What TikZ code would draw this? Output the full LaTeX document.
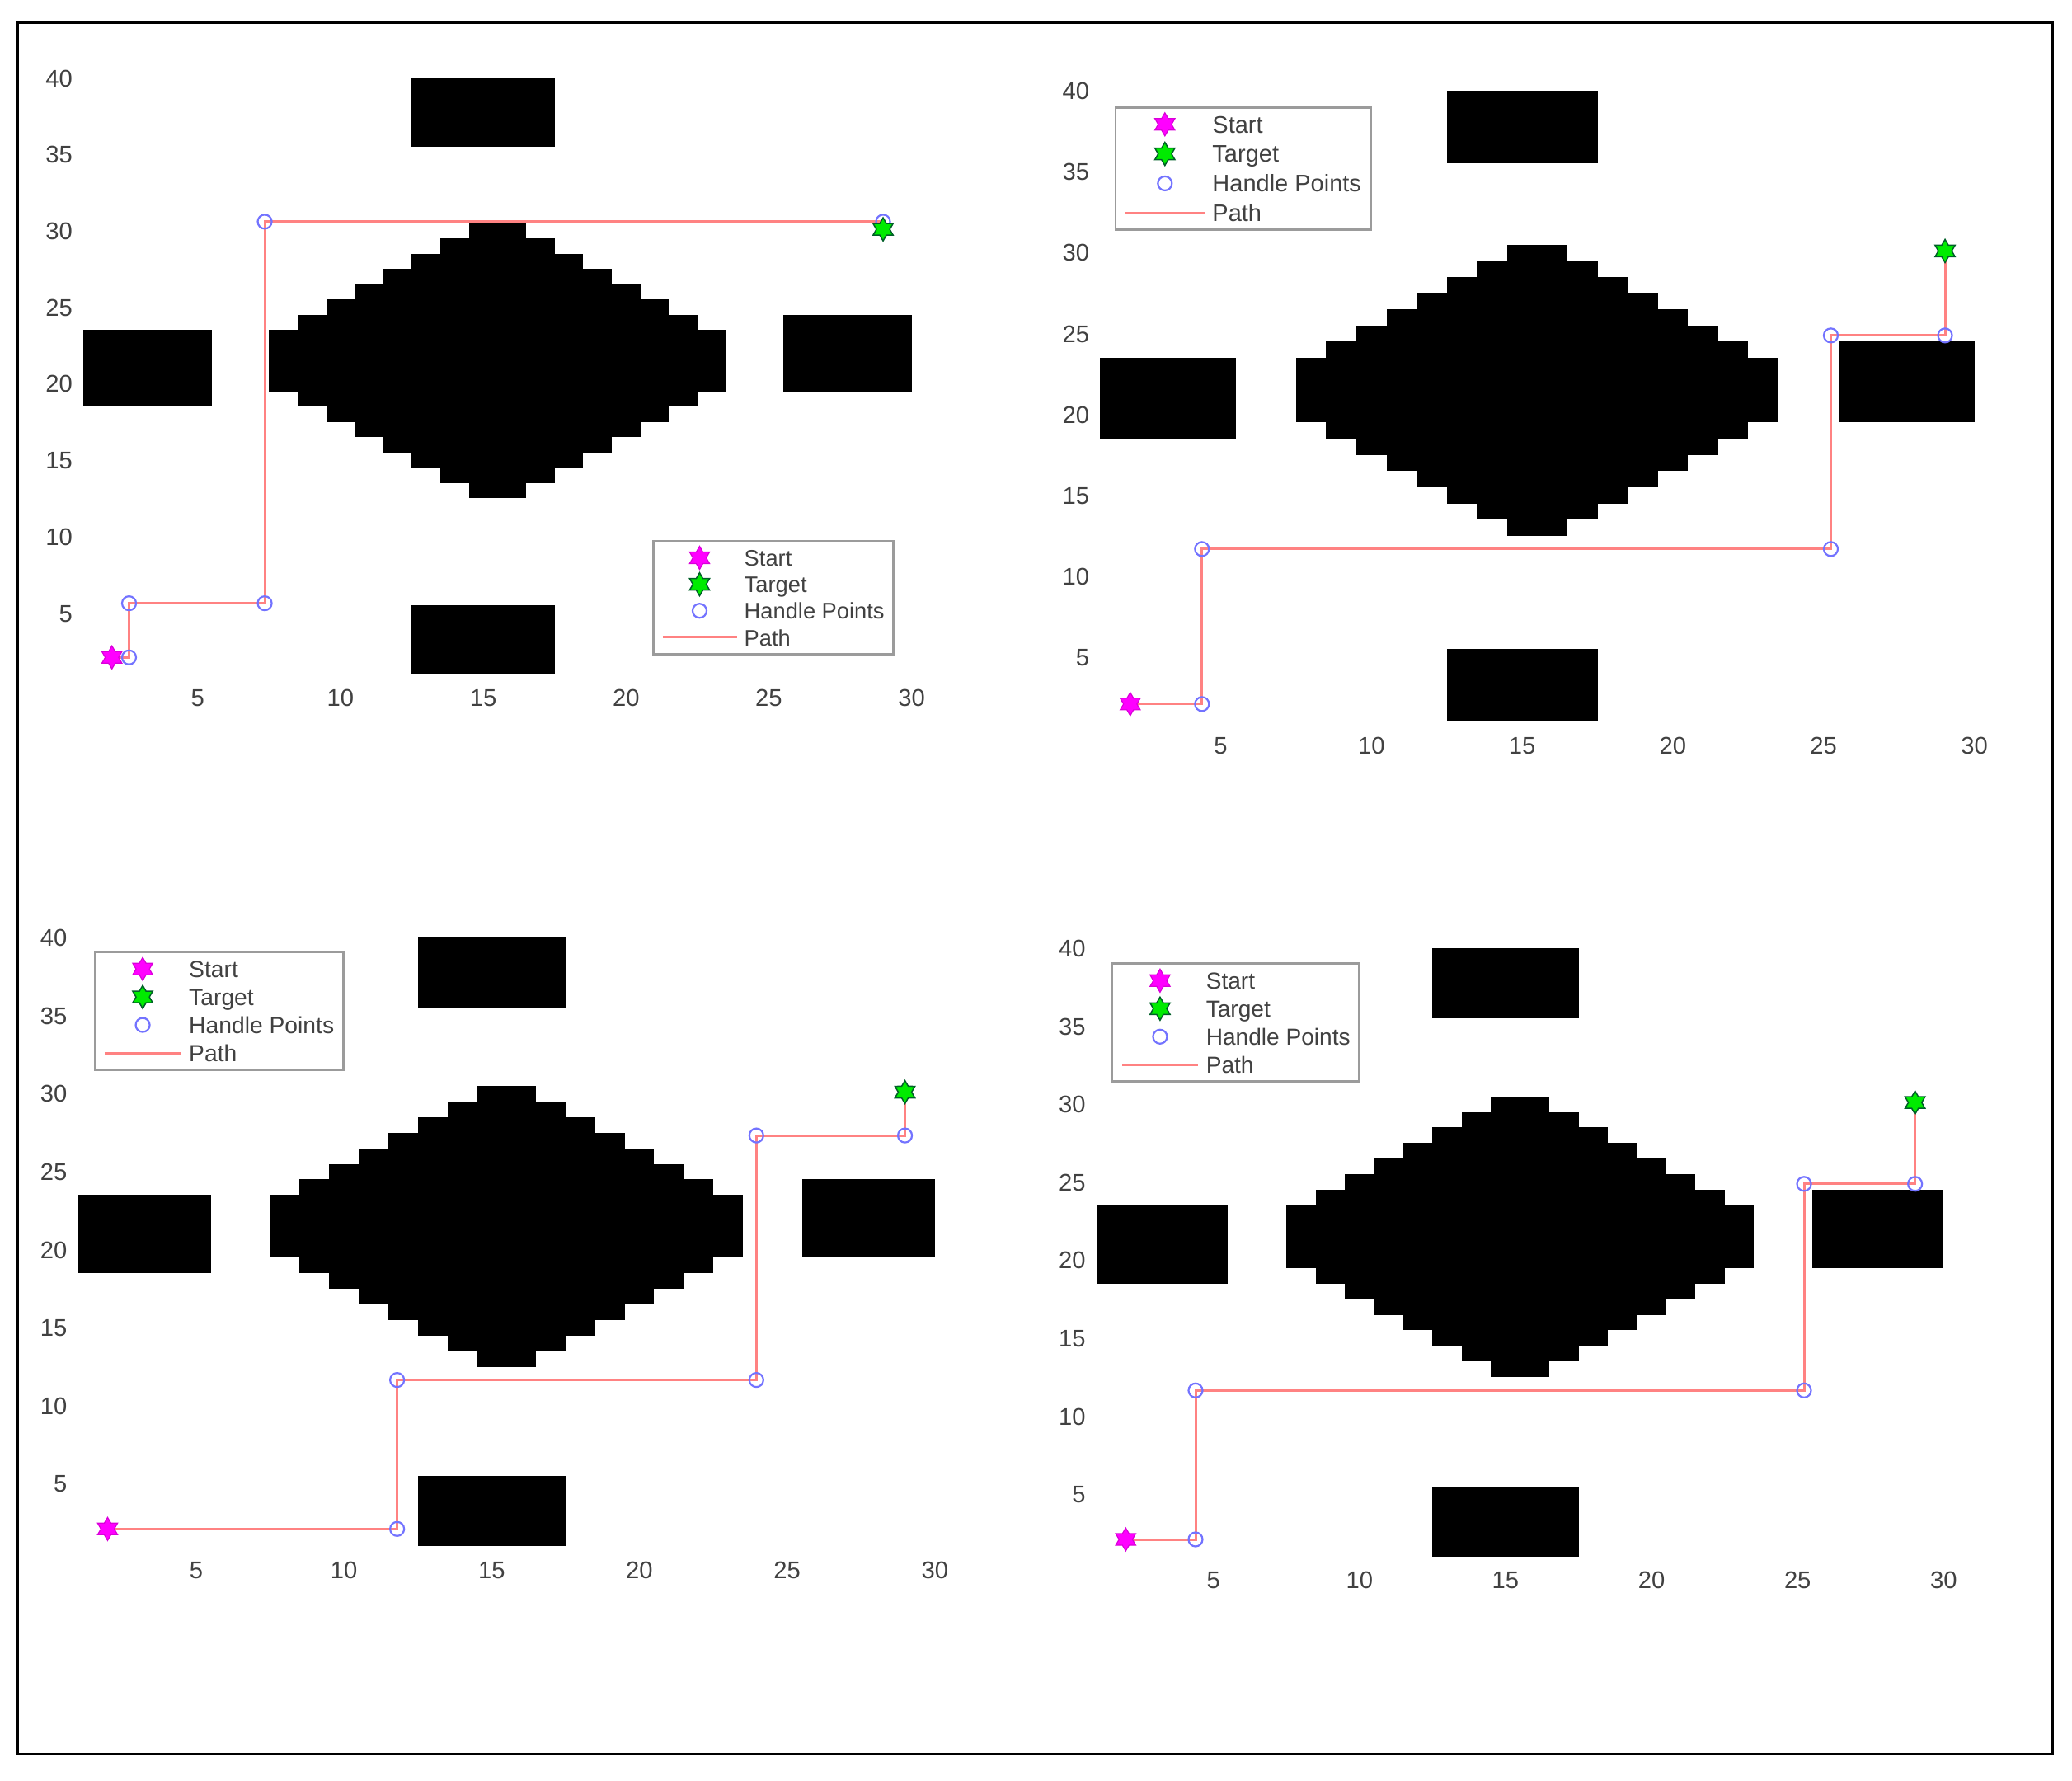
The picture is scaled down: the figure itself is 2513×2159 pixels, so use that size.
\documentclass[tikz,border=0pt]{standalone}
\usepackage{fontspec}
\setmainfont{Liberation Sans}
\usetikzlibrary{shapes.geometric}

\definecolor{pathred}{RGB}{255,130,130}
\definecolor{handleblue}{RGB}{115,115,255}
\definecolor{startmag}{RGB}{255,0,255}
\definecolor{targetgreen}{RGB}{0,235,0}
\definecolor{targetedge}{RGB}{0,95,40}
\definecolor{legendgray}{RGB}{155,155,155}
\definecolor{labelgray}{RGB}{65,65,65}

% map in data units: walls and the stepped diamond
\newcommand{\mapobstacles}{%
  \fill[obstacle] (12.5,35.5) rectangle (17.5,40);
  \fill[obstacle] (12.5,1) rectangle (17.5,5.5);
  \fill[obstacle] (1,18.5) rectangle (5.5,23.5);
  \fill[obstacle] (25.5,19.5) rectangle (30,24.5);
  \foreach \k in {0,...,7}
    \fill[obstacle] (14.5-\k,12.5+\k) rectangle (16.5+\k,30.5-\k);
}

% tick labels
\newcommand{\mapticks}[1]{%
  \foreach \v in {5,10,...,30}
    \node[ticklabel, yshift=-0.285cm] (#1x\v) at (\v,1) {\v};
  \foreach \v in {5,10,...,40}
    \node[ticklabel, anchor=east, xshift=-0.125cm] (#1y\v) at (1,\v) {\v};
}

% start -> 5 handle points -> target
\newcommand{\plannedpath}[6]{%
  \coordinate (#1s) at (2,2.1);
  \coordinate (#1h1) at (#2,2.1);
  \coordinate (#1h2) at (#2,#3);
  \coordinate (#1h3) at (#4,#3);
  \coordinate (#1h4) at (#4,#5);
  \coordinate (#1h5) at (#6,#5);
  \coordinate (#1t) at (#6,30.1);
  \draw[pathline] (#1s) -- (#1h1) -- (#1h2) -- (#1h3) -- (#1h4) -- (#1h5) -- (#1t);
  \foreach \i in {1,...,5}
    \node[handlemark] (#1m\i) at (#1h\i) {};
  \node[startmark] (#1ms) at (#1s) {};
  \node[targetmark] (#1mt) at (#1t) {};
}

% legend box, in pixel units
\newcommand{\maplegend}[5]{%
  \pgfmathsetmacro{\legrow}{(#5-41)/3}%
  \pgfmathsetmacro{\legmark}{#2+0.193*#4}%
  \pgfmathsetmacro{\legtxt}{#2+0.377*#4}%
  \pgfmathsetmacro{\legfont}{8*#4/300}%
  \pgfmathsetmacro{\legya}{#3+20.5}%
  \pgfmathsetmacro{\legyb}{#3+20.5+\legrow}%
  \pgfmathsetmacro{\legyc}{#3+20.5+2*\legrow}%
  \pgfmathsetmacro{\legyd}{#3+20.5+3*\legrow}%
  \draw[legframe] (#2,#3) rectangle ++(#4,#5);
  \begin{scope}[font=\fontsize{\legfont}{10}\selectfont]
    \node[startmark] (#1ls) at (\legmark,\legya) {};
    \node[legtext] (#1lst) at (\legtxt,\legya) {Start};
    \node[targetmark] (#1lt) at (\legmark,\legyb) {};
    \node[legtext] (#1ltt) at (\legtxt,\legyb) {Target};
    \node[handlemark] (#1lh) at (\legmark,\legyc) {};
    \node[legtext] (#1lht) at (\legtxt,\legyc) {Handle Points};
    \coordinate (#1lpa) at (#2+0.04*#4,\legyd);
    \coordinate (#1lpb) at (#2+0.348*#4,\legyd);
    \draw[pathline] (#1lpa) -- (#1lpb);
    \node[legtext] (#1lpt) at (\legtxt,\legyd) {Path};
  \end{scope}
}

\begin{document}
\begin{tikzpicture}[x=0.01cm, y=-0.01cm,
    obstacle/.style={fill=black},
    ticklabel/.style={text=labelgray, font=\fontsize{8.3}{10}\selectfont,
      inner sep=0pt, text height=6pt, text depth=0pt},
    legtext/.style={text=labelgray, anchor=west, inner sep=0pt,
      text height=5.8pt, text depth=0pt},
    pathline/.style={draw=pathred, line width=0.03cm},
    handlemark/.style={circle, draw=handleblue, line width=0.022cm,
      minimum size=0.17cm, inner sep=0pt},
    startmark/.style={star, star points=6, star point ratio=1.73,
      fill=startmag, draw=startmag!85!black, line width=0.012cm,
      minimum size=0.28cm, inner sep=0pt},
    targetmark/.style={star, star points=6, star point ratio=1.73,
      fill=targetgreen, draw=targetedge, line width=0.015cm,
      minimum size=0.28cm, inner sep=0pt},
    legframe/.style={draw=legendgray, line width=0.027cm},
  ]
  \useasboundingbox (0,0) rectangle (2513,2159);
  \draw[line width=0.033cm] (21.5,27) rectangle (2489,2127.5);

  % top left
  \begin{scope}[xshift=0.664cm, yshift=-8.357cm, x=0.3462cm, y=0.1853cm]
    \mapobstacles
    \mapticks{tl}
    \plannedpath{tl}{2.6}{5.64}{7.35}{30.6}{29}
  \end{scope}
  \maplegend{tl}{792.3}{656}{291}{137.3}

  % top right
  \begin{scope}[xshift=12.969cm, yshift=-8.945cm, x=0.3654cm, y=0.1961cm]
    \mapobstacles
    \mapticks{tr}
    \plannedpath{tr}{4.38}{11.68}{25.24}{24.88}{29.03}
  \end{scope}
  \maplegend{tr}{1353.1}{130.3}{309.3}{148.4}

  % bottom left
  \begin{scope}[xshift=0.588cm, yshift=-18.929cm, x=0.3581cm, y=0.1891cm]
    \mapobstacles
    \mapticks{bl}
    \plannedpath{bl}{11.8}{11.65}{23.96}{27.32}{28.99}
  \end{scope}
  \maplegend{bl}{114.9}{1154.7}{301.4}{142.8}

  % bottom right
  \begin{scope}[xshift=12.937cm, yshift=-19.056cm, x=0.3541cm, y=0.1891cm]
    \mapobstacles
    \mapticks{br}
    \plannedpath{br}{4.39}{11.65}{25.22}{24.89}{29.02}
  \end{scope}
  \maplegend{br}{1349.1}{1168.8}{299.6}{142.9}
\end{tikzpicture}
\end{document}
